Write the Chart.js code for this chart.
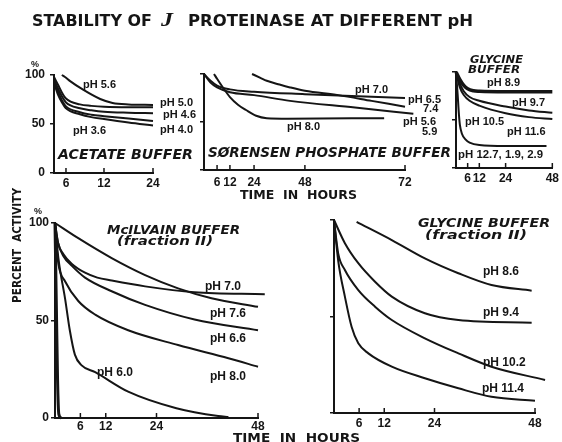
<!DOCTYPE html>
<html>
<head>
<meta charset="utf-8">
<script src="https://cdn.jsdelivr.net/npm/chart.js@4/dist/chart.umd.min.js"></script>
<style>
  html, body { margin: 0; padding: 0; background: #fff; }
  #wrap { position: relative; width: 562px; height: 442px; overflow: hidden; }
  #wrap canvas { position: absolute; left: 0; top: 0; }
</style>
</head>
<body>
<div id="wrap">
  <canvas id="txt" width="562" height="442"></canvas>
  <canvas id="tl" width="562" height="442"></canvas>
  <canvas id="tm" width="562" height="442"></canvas>
  <canvas id="tr" width="562" height="442"></canvas>
  <canvas id="bl" width="562" height="442"></canvas>
  <canvas id="br" width="562" height="442"></canvas>
</div>
<script>
// ---- data: [hours, percent activity] ----

// acetate buffer
const acetate56 = [[3.9,100],[5.5,98],[6.6,94],[8.7,85],[11.4,75.5],[14.1,71.5],[18,70],[24,69.5]];
const acetate50 = [[0,98],[2,90],[4,82],[6,76],[8.2,70],[10,68.5],[12,67.5],[18,67],[24,67]];
const acetate46 = [[0,96],[2,86],[4,78],[6,72],[8.2,66],[10,64],[12,62.5],[18,61.5],[24,61]];
const acetate36 = [[0,94],[2,83],[4,74],[6,68],[8.2,62],[10,59.5],[12,58],[18,55.5],[24,53]];
const acetate40 = [[0,92],[2,80],[4,72],[6,66],[8.2,60],[10,57],[12,55],[18,51.5],[24,48.5]];

// sorensen phosphate buffer
const phos80 = [[4.6,100],[6,95],[9,85],[12,76],[16,68],[20,62.5],[25,56.5],[30,54],[40,53.5],[67,54]];
const phos70 = [[23,100],[27,96],[30,93],[36,89],[41,86],[48,82.5],[56,78],[64,72],[72,66]];
const phos65 = [[0,100],[3,93],[6,88],[12,84],[24,81.5],[48,79],[72,75]];
const phos56 = [[0,100],[3,91],[6,86],[12,81],[24,78],[41,72],[60,65],[74,58.5]];

// glycine buffer
const gly89 = [[0,100],[2,92],[4,86],[6,82.5],[9,80.5],[12,80],[24,79.5],[48,79.5]];
const gly97 = [[0,100],[2,88],[4,80],[7,74],[12,70],[24,64],[36,60],[48,57.5]];
const gly105 = [[0,100],[2,84],[4,76],[7,70],[12,65],[24,57],[36,53],[48,51]];
const gly127 = [[0,100],[0.8,78],[1.5,56],[2,45],[3,36],[5,29.5],[7,26.5],[12,24],[24,23],[45,23]];

// mcilvain buffer (fraction II)
const mc76 = [[0,100],[5.5,92.2],[13.4,82],[21.3,73.3],[29.1,66.5],[37,61.4],[48,57]];
const mc70 = [[0,100],[0.7,90],[2,84],[4,79],[7.1,74.5],[10,72],[13.4,70.5],[21.3,67.5],[33,64.5],[49.6,63.5]];
const mc66 = [[0,100],[0.7,90],[2,83],[4,78],[7.1,72],[13.4,65],[21.3,58],[33,50.5],[48,45]];
const mc80 = [[0,100],[0.3,90],[0.8,79],[2.4,70],[5.5,60],[9.5,53],[17.3,45],[29.1,37.4],[41,30.6],[48,26.3]];
const mc60 = [[0,100],[0.8,82],[2.4,61],[3.5,45],[4.7,32.5],[6.3,27],[9.5,23.5],[17.3,13.5],[28.7,5],[38.6,1],[41,0.5]];
const mcLow = [[0,100],[0.3,60],[0.6,20],[0.9,2],[1.5,0]];

// glycine buffer (fraction II)
const g2_86 = [[5.4,99],[13.8,89.6],[21.7,80.1],[29.7,72.4],[37.6,66.3],[47.2,63.4]];
const g2_94 = [[0,100],[2.6,88],[5.8,77.6],[9.8,68],[13.8,60.3],[21.7,51.7],[29.7,48.2],[47.2,46.8]];
const g2_102 = [[0,100],[1,82.7],[2.6,74.1],[5.8,63.7],[9.8,55.1],[13.8,48.2],[21.7,38.7],[29.7,30.9],[37.6,24],[50.4,17.1]];
const g2_114 = [[0,100],[1,79],[2.6,60.3],[4.2,44.7],[5.8,36.1],[8.2,30.9],[13.8,24],[21.7,18],[29.7,12.8],[37.6,8.4],[48,6.4]];

// tick labels
const yTicks = [0, 50, 100];
const tlHours = [6, 12, 24];
const tmHours = [6, 12, 24, 48, 72];
const trHours = [6, 12, 24, 48];
const bHours = [6, 12, 24, 48];

// the hand-drawn time axes are not evenly spaced: tick hour -> fraction of axis length
const KNOTS = {
  tl: { h: [0, 6, 12, 24], f: [0, 0.121, 0.505, 1] },
  tm: { h: [0, 6, 12, 24, 48, 72], f: [0, 0.065, 0.129, 0.249, 0.502, 1] },
  tr: { h: [0, 6, 12, 24, 48], f: [0, 0.121, 0.242, 0.515, 1] },
  bl: { h: [0, 48], f: [0, 1] },
  br: { h: [0, 48], f: [0, 1] }
};

function warp(k, v) {
  let i = 1;
  while (i < k.h.length - 1 && v > k.h[i]) i++;
  return k.f[i-1] + (v - k.h[i-1]) * (k.f[i] - k.f[i-1]) / (k.h[i] - k.h[i-1]);
}
function unwarp(k, d) {
  let i = 1;
  while (i < k.f.length - 1 && d > k.f[i]) i++;
  return k.h[i-1] + (d - k.f[i-1]) * (k.h[i] - k.h[i-1]) / (k.f[i] - k.f[i-1]);
}

class WarpScale extends Chart.LinearScale {
  getPixelForValue(v) {
    if (v === null || v === undefined) return NaN;
    return this.getPixelForDecimal(warp(KNOTS[this.chart.canvas.id], v));
  }
  getValueForPixel(p) {
    return unwarp(KNOTS[this.chart.canvas.id], this.getDecimalForPixel(p));
  }
}
WarpScale.id = 'warp';
WarpScale.defaults = {};
Chart.register(WarpScale);

const INK = '#151515';
const YW = 40;   // fixed width of y axis box
const XH = 22;   // fixed height of x axis box

const innerTicks = {
  id: 'innerTicks',
  afterDraw(chart) {
    const x = chart.scales.x, a = chart.chartArea, ctx = chart.ctx;
    ctx.save();
    ctx.strokeStyle = INK;
    ctx.lineWidth = 1.5;
    x.ticks.forEach(t => {
      const p = x.getPixelForValue(t.value);
      ctx.beginPath();
      ctx.moveTo(p, a.bottom);
      ctx.lineTo(p, a.bottom - 5);
      ctx.stroke();
    });
    ctx.restore();
  }
};

function line(data, w) {
  return {
    data: data.map(p => ({ x: p[0], y: p[1] })),
    borderColor: INK,
    borderWidth: w || 2,
    pointRadius: 0,
    fill: false,
    clip: false,
    cubicInterpolationMode: 'monotone'
  };
}

// area = [left, top, right, bottom] of the plot box in page pixels
function panel(id, area, xmax, hours, series, opt) {
  const pad = {
    left: area[0] - YW,
    top: area[1],
    right: 562 - area[2],
    bottom: 442 - area[3] - XH
  };
  new Chart(document.getElementById(id), {
    type: 'line',
    data: { datasets: series },
    plugins: [innerTicks],
    options: {
      responsive: false,
      animation: false,
      devicePixelRatio: 1,
      layout: { padding: pad },
      plugins: { legend: { display: false }, tooltip: { enabled: false } },
      scales: {
        x: {
          type: 'warp',
          min: 0,
          max: xmax,
          afterBuildTicks: s => { s.ticks = hours.map(v => ({ value: v })); },
          afterFit: s => { s.height = XH; },
          grid: { display: false, drawTicks: false },
          border: { display: true, color: INK, width: 2 },
          ticks: {
            color: INK,
            padding: opt.xPad,
            autoSkip: false,
            maxRotation: 0,
            font: { family: 'Liberation Sans', weight: 'bold', size: 12 },
            callback: v => v
          }
        },
        y: {
          type: 'linear',
          min: 0,
          max: 100,
          afterBuildTicks: s => { s.ticks = yTicks.map(v => ({ value: v })); },
          afterFit: s => { s.width = YW; },
          grid: { drawOnChartArea: false, drawTicks: true, tickLength: 4, color: INK, lineWidth: 1.5 },
          border: { display: true, color: INK, width: 2 },
          ticks: {
            display: opt.yLabels,
            color: INK,
            padding: opt.yPad || 4,
            font: { family: 'Liberation Sans', weight: 'bold', size: 12 },
            callback: v => v
          }
        }
      }
    }
  });
}

panel('tl', [54, 75, 153, 173], 24, tlHours,
  [line(acetate56), line(acetate50), line(acetate46), line(acetate36), line(acetate40)],
  { xPad: 3, yLabels: true, yPad: 5 });

panel('tm', [204, 74, 405, 170], 72, tmHours,
  [line(phos80), line(phos70), line(phos65), line(phos56)],
  { xPad: 5, yLabels: false });

panel('tr', [456, 72, 555, 168], 48, trHours,
  [line(gly89, 3.5), line(gly97), line(gly105), line(gly127)],
  { xPad: 3, yLabels: false });

panel('bl', [55, 223, 258, 418], 48, bHours,
  [line(mc76), line(mc70), line(mc66), line(mc80), line(mc60), line(mcLow, 3)],
  { xPad: 1, yLabels: true, yPad: 2 });

panel('br', [334, 220, 535, 413], 48, bHours,
  [line(g2_86), line(g2_94), line(g2_102), line(g2_114)],
  { xPad: 3, yLabels: false });

// ---- lettering ----
const tc = document.getElementById('txt').getContext('2d');
function put(s, x, y, font, w) {
  tc.save();
  tc.font = font;
  tc.fillStyle = INK;
  tc.textBaseline = 'middle';
  tc.textAlign = 'left';
  const m = tc.measureText(s).width;
  tc.translate(x, y);
  if (w) tc.scale(w / m, 1);
  tc.fillText(s, 0, 0);
  tc.restore();
}
const SANS = '"Liberation Sans"';
const HEAD = 'bold 16px "DejaVu Sans"';
const PANEL = 'italic bold 14px "DejaVu Sans"';
const PH = 'bold 11px ' + SANS;
const PHB = 'bold 12px ' + SANS;

put('STABILITY OF', 32, 22, HEAD, 120);
put('J', 161, 21, 'italic bold 19px "Liberation Serif"', 12);
put('PROTEINASE AT DIFFERENT pH', 188, 22, HEAD, 285);

put('ACETATE BUFFER', 58, 155, PANEL, 135);
put('S\u00D8RENSEN PHOSPHATE BUFFER', 208, 153, PANEL, 243);
put('GLYCINE', 470, 60, 'italic bold 11px "DejaVu Sans"', 53);
put('BUFFER', 468, 70, 'italic bold 11px "DejaVu Sans"', 52);
put('McILVAIN BUFFER', 107, 231, 'italic bold 13px "DejaVu Sans"', 133);
put('(fraction II)', 117, 242, 'italic bold 13px "DejaVu Sans"', 96);
put('GLYCINE BUFFER', 418, 224, 'italic bold 13px "DejaVu Sans"', 132);
put('(fraction II)', 425, 236, 'italic bold 13px "DejaVu Sans"', 102);

put('TIME  IN  HOURS', 240, 196, 'bold 13px "DejaVu Sans"', 117);
put('TIME  IN  HOURS', 233, 439, 'bold 12px "DejaVu Sans"', 127);

tc.save();
tc.translate(18, 303);
tc.rotate(-Math.PI / 2);
put('PERCENT  ACTIVITY', 0, 0, 'bold 12px "DejaVu Sans"', 115);
tc.restore();

put('%', 31, 65, 'bold 9px ' + SANS);
put('%', 34, 212, 'bold 9px ' + SANS);

// pH labels
put('pH 5.6', 83, 85, PH);
put('pH 5.0', 160, 103, PH);
put('pH 4.6', 163, 115, PH);
put('pH 4.0', 160, 130, PH);
put('pH 3.6', 73, 131, PH);

put('pH 7.0', 355, 90, PH);
put('pH 6.5', 408, 100, PH);
put('7.4', 423, 109, PH);
put('pH 5.6', 403, 122, PH);
put('5.9', 422, 132, PH);
put('pH 8.0', 287, 127, PH);

put('pH 8.9', 487, 83, PH);
put('pH 9.7', 512, 103, PH);
put('pH 10.5', 465, 122, PH);
put('pH 11.6', 507, 132, PH);
put('pH 12.7, 1.9, 2.9', 458, 155, PH, 85);

put('pH 7.0', 205, 287, PHB);
put('pH 7.6', 210, 314, PHB);
put('pH 6.6', 210, 339, PHB);
put('pH 8.0', 210, 377, PHB);
put('pH 6.0', 97, 373, PHB);

put('pH 8.6', 483, 272, PHB);
put('pH 9.4', 483, 313, PHB);
put('pH 10.2', 483, 363, PHB);
put('pH 11.4', 482, 389, PHB);
</script>
</body>
</html>
